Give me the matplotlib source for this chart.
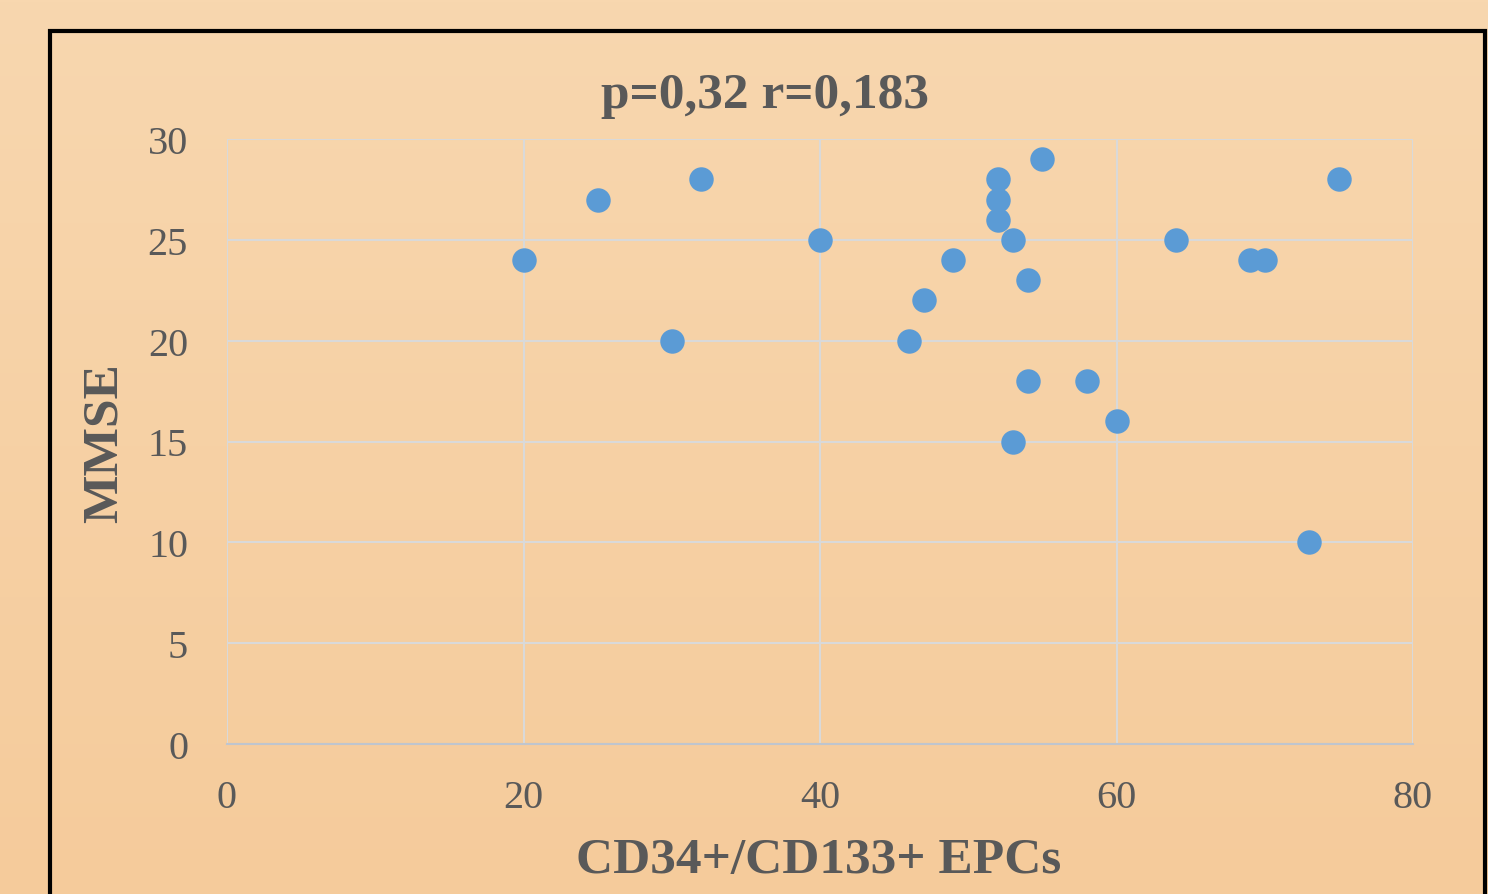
import numpy as np
import matplotlib.pyplot as plt
from matplotlib.patches import Rectangle

# CD34+/CD133+ EPC counts vs MMSE score
epcs = [20, 25, 30, 32, 40, 46, 47, 49, 52, 52, 52, 53, 54, 55, 54, 53, 58, 60, 64, 69, 70, 73, 75]
mmse = [24, 27, 20, 28, 25, 20, 22, 24, 28, 27, 26, 25, 23, 29, 18, 15, 18, 16, 25, 24, 24, 10, 28]

x_ticks = [0, 20, 40, 60, 80]
y_ticks = [0, 5, 10, 15, 20, 25, 30]

txt = '#595959'
plt.rcParams['font.family'] = ['Liberation Serif', 'DejaVu Serif']

W, H = 1488, 895
fig = plt.figure(figsize=(W / 100, H / 100), dpi=100)

# peach gradient background
bg = fig.add_axes([0, 0, 1, 1], zorder=-10)
grad = np.linspace(0, 1, 256).reshape(-1, 1)
c_top = np.array([248, 215, 175]) / 255
c_bot = np.array([245, 203, 155]) / 255
img = c_top + grad[..., None] * (c_bot - c_top)
bg.imshow(img, aspect='auto', extent=[0, 1, 0, 1], origin='upper')
bg.set_xlim(0, 1)
bg.set_ylim(0, 1)
bg.axis('off')

# black frame around the chart
bg.add_patch(Rectangle((49.5 / W, -0.05), (1485 - 49.5) / W, 1.05 - 31.5 / H,
                       fill=False, edgecolor='black', linewidth=3))

ax = fig.add_axes([227 / W, 150 / H, (1413 - 227) / W, (745 - 140) / H])
ax.patch.set_alpha(0)
ax.scatter(epcs, mmse, s=310, color='#5B9BD5', zorder=3, linewidths=0)

ax.set_xlim(0, 80)
ax.set_ylim(0, 30)
ax.set_xticks(x_ticks)
ax.set_yticks(y_ticks)
ax.grid(True, color='#D9D9D9', linewidth=1.5)
ax.set_axisbelow(True)
for side in ['top', 'right', 'left']:
    ax.spines[side].set_visible(False)
ax.spines['bottom'].set_color('#BFC5CE')
ax.spines['bottom'].set_linewidth(1.5)
ax.tick_params(length=0, labelsize=29, labelcolor=txt)
ax.tick_params(axis='x', pad=25)
ax.tick_params(axis='y', pad=28)

fig.text(765 / W, 1 - 96 / H, 'p=0,32 r=0,183', fontsize=37, fontweight='bold',
         color=txt, ha='center', va='center')
fig.text(819 / W, 1 - 861 / H, 'CD34+/CD133+ EPCs', fontsize=37, fontweight='bold',
         color=txt, ha='center', va='center')
fig.text(105 / W, 1 - 443 / H, 'MMSE', fontsize=37, fontweight='bold',
         color=txt, ha='center', va='center', rotation=90)

fig.savefig('out.png', dpi=100)
